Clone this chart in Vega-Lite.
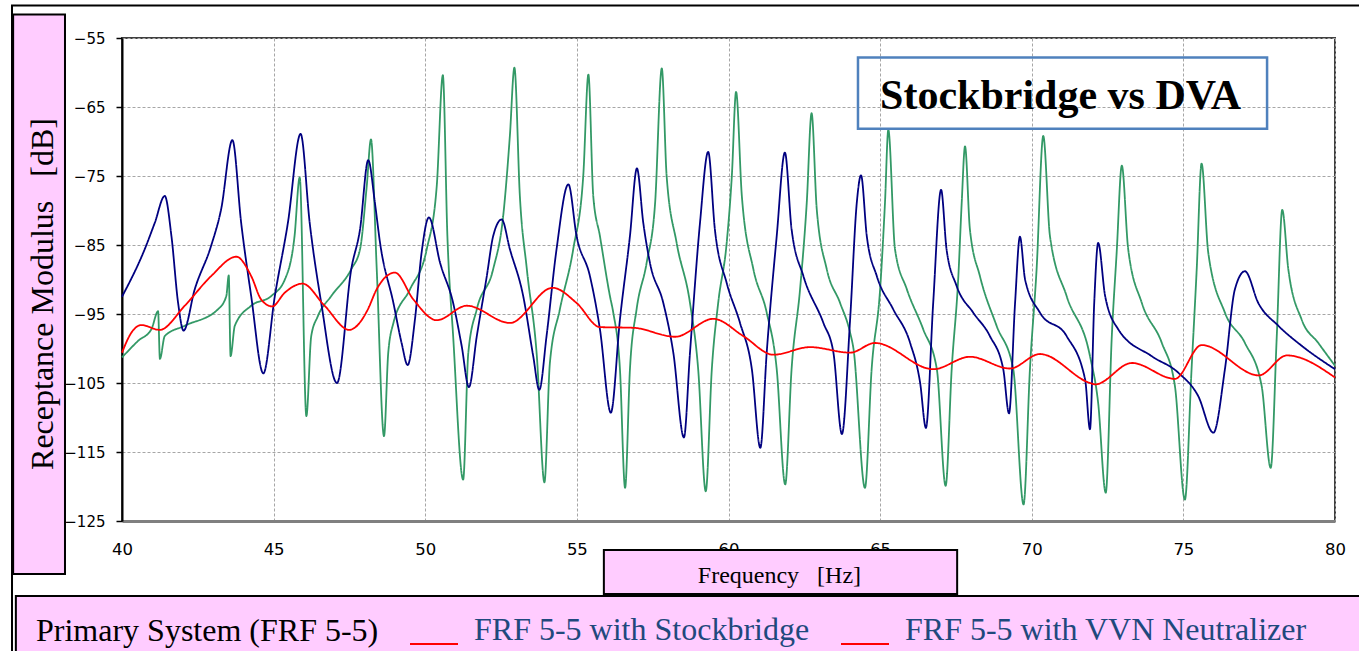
{
  "$schema": "https://vega.github.io/schema/vega-lite/v6.json",
  "width": 1213,
  "height": 483,
  "autosize": {"type": "none"},
  "padding": {"left": 122, "top": 38, "right": 24, "bottom": 130},
  "background": "white",
  "config": {
    "font": "DejaVu Sans",
    "view": {"stroke": "#404040", "strokeWidth": 2}
  },
  "layer": [
    {
      "data": {"values": [{}]},
      "mark": {"type": "rect", "fillOpacity": 0, "stroke": "black", "strokeWidth": 2},
      "encoding": {
        "x": {"datum": 36.373},
        "x2": {"datum": 81.6},
        "y": {"datum": -50.29},
        "y2": {"datum": -146}
      }
    },
    {
      "data": {"values": [{}]},
      "mark": {"type": "rect", "fill": "#ffccff", "stroke": "black", "strokeWidth": 2},
      "encoding": {
        "x": {"datum": 36.5},
        "x2": {"datum": 82.14},
        "y": {"datum": -135.87},
        "y2": {"datum": -148.04}
      }
    },
    {
      "data": {"values": [{}]},
      "mark": {"type": "rect", "fill": "#ffccff", "stroke": "black", "strokeWidth": 2},
      "encoding": {
        "x": {"datum": 36.41},
        "x2": {"datum": 38.12},
        "y": {"datum": -51.59},
        "y2": {"datum": -132.68}
      }
    },
    {
      "data": {
        "values": [
          {"series": "Primary", "freq": 40.00, "dB": -101.3},
          {"series": "Primary", "freq": 40.53, "dB": -98.9},
          {"series": "Primary", "freq": 40.97, "dB": -97.2},
          {"series": "Primary", "freq": 41.19, "dB": -94.6},
          {"series": "Primary", "freq": 41.25, "dB": -101.5},
          {"series": "Primary", "freq": 41.41, "dB": -98.2},
          {"series": "Primary", "freq": 42.07, "dB": -96.7},
          {"series": "Primary", "freq": 43.17, "dB": -94.3},
          {"series": "Primary", "freq": 43.44, "dB": -92.4},
          {"series": "Primary", "freq": 43.52, "dB": -89.4},
          {"series": "Primary", "freq": 43.58, "dB": -101.1},
          {"series": "Primary", "freq": 43.72, "dB": -96.7},
          {"series": "Primary", "freq": 44.26, "dB": -93.8},
          {"series": "Primary", "freq": 44.92, "dB": -92.4},
          {"series": "Primary", "freq": 45.37, "dB": -90.0},
          {"series": "Primary", "freq": 45.69, "dB": -83.7},
          {"series": "Primary", "freq": 45.86, "dB": -75.2},
          {"series": "Primary", "freq": 46.08, "dB": -109.8},
          {"series": "Primary", "freq": 46.24, "dB": -98.2},
          {"series": "Primary", "freq": 46.46, "dB": -95.3},
          {"series": "Primary", "freq": 46.90, "dB": -92.4},
          {"series": "Primary", "freq": 47.56, "dB": -88.5},
          {"series": "Primary", "freq": 47.85, "dB": -85.6},
          {"series": "Primary", "freq": 48.07, "dB": -76.5},
          {"series": "Primary", "freq": 48.21, "dB": -69.7},
          {"series": "Primary", "freq": 48.40, "dB": -88.5},
          {"series": "Primary", "freq": 48.64, "dB": -112.7},
          {"series": "Primary", "freq": 48.78, "dB": -100.6},
          {"series": "Primary", "freq": 48.95, "dB": -96.3},
          {"series": "Primary", "freq": 49.50, "dB": -91.4},
          {"series": "Primary", "freq": 50.05, "dB": -85.6},
          {"series": "Primary", "freq": 50.38, "dB": -76.4},
          {"series": "Primary", "freq": 50.58, "dB": -60.4},
          {"series": "Primary", "freq": 50.73, "dB": -83.7},
          {"series": "Primary", "freq": 50.92, "dB": -98.2},
          {"series": "Primary", "freq": 51.25, "dB": -119.0},
          {"series": "Primary", "freq": 51.42, "dB": -100.6},
          {"series": "Primary", "freq": 51.70, "dB": -94.3},
          {"series": "Primary", "freq": 52.24, "dB": -88.5},
          {"series": "Primary", "freq": 52.57, "dB": -80.8},
          {"series": "Primary", "freq": 52.79, "dB": -69.2},
          {"series": "Primary", "freq": 52.94, "dB": -59.3},
          {"series": "Primary", "freq": 53.12, "dB": -77.9},
          {"series": "Primary", "freq": 53.35, "dB": -88.5},
          {"series": "Primary", "freq": 53.68, "dB": -101.1},
          {"series": "Primary", "freq": 53.93, "dB": -119.4},
          {"series": "Primary", "freq": 54.11, "dB": -102.1},
          {"series": "Primary", "freq": 54.44, "dB": -94.3},
          {"series": "Primary", "freq": 54.88, "dB": -85.6},
          {"series": "Primary", "freq": 55.21, "dB": -75.0},
          {"series": "Primary", "freq": 55.38, "dB": -60.3},
          {"series": "Primary", "freq": 55.54, "dB": -77.9},
          {"series": "Primary", "freq": 55.76, "dB": -83.7},
          {"series": "Primary", "freq": 56.09, "dB": -92.4},
          {"series": "Primary", "freq": 56.20, "dB": -94.8},
          {"series": "Primary", "freq": 56.42, "dB": -103.0},
          {"series": "Primary", "freq": 56.59, "dB": -120.2},
          {"series": "Primary", "freq": 56.75, "dB": -103.0},
          {"series": "Primary", "freq": 56.97, "dB": -94.3},
          {"series": "Primary", "freq": 57.30, "dB": -87.6},
          {"series": "Primary", "freq": 57.58, "dB": -78.9},
          {"series": "Primary", "freq": 57.80, "dB": -59.4},
          {"series": "Primary", "freq": 57.96, "dB": -75.0},
          {"series": "Primary", "freq": 58.29, "dB": -84.7},
          {"series": "Primary", "freq": 58.73, "dB": -93.4},
          {"series": "Primary", "freq": 59.00, "dB": -103.0},
          {"series": "Primary", "freq": 59.25, "dB": -120.7},
          {"series": "Primary", "freq": 59.45, "dB": -103.0},
          {"series": "Primary", "freq": 59.66, "dB": -93.4},
          {"series": "Primary", "freq": 59.94, "dB": -84.7},
          {"series": "Primary", "freq": 60.11, "dB": -75.0},
          {"series": "Primary", "freq": 60.25, "dB": -62.8},
          {"series": "Primary", "freq": 60.44, "dB": -77.9},
          {"series": "Primary", "freq": 60.82, "dB": -88.5},
          {"series": "Primary", "freq": 61.26, "dB": -94.8},
          {"series": "Primary", "freq": 61.59, "dB": -103.0},
          {"series": "Primary", "freq": 61.87, "dB": -119.7},
          {"series": "Primary", "freq": 62.08, "dB": -103.0},
          {"series": "Primary", "freq": 62.36, "dB": -91.4},
          {"series": "Primary", "freq": 62.58, "dB": -78.9},
          {"series": "Primary", "freq": 62.74, "dB": -65.9},
          {"series": "Primary", "freq": 62.91, "dB": -79.8},
          {"series": "Primary", "freq": 63.24, "dB": -88.5},
          {"series": "Primary", "freq": 63.68, "dB": -93.4},
          {"series": "Primary", "freq": 64.01, "dB": -97.7},
          {"series": "Primary", "freq": 64.12, "dB": -100.0},
          {"series": "Primary", "freq": 64.50, "dB": -120.2},
          {"series": "Primary", "freq": 64.72, "dB": -103.0},
          {"series": "Primary", "freq": 65.00, "dB": -91.4},
          {"series": "Primary", "freq": 65.16, "dB": -78.9},
          {"series": "Primary", "freq": 65.27, "dB": -68.3},
          {"series": "Primary", "freq": 65.49, "dB": -85.6},
          {"series": "Primary", "freq": 65.88, "dB": -91.4},
          {"series": "Primary", "freq": 66.42, "dB": -97.2},
          {"series": "Primary", "freq": 66.87, "dB": -103.0},
          {"series": "Primary", "freq": 67.16, "dB": -119.9},
          {"series": "Primary", "freq": 67.36, "dB": -103.0},
          {"series": "Primary", "freq": 67.58, "dB": -89.5},
          {"series": "Primary", "freq": 67.69, "dB": -78.9},
          {"series": "Primary", "freq": 67.80, "dB": -70.7},
          {"series": "Primary", "freq": 67.96, "dB": -82.7},
          {"series": "Primary", "freq": 68.29, "dB": -89.5},
          {"series": "Primary", "freq": 68.84, "dB": -96.7},
          {"series": "Primary", "freq": 69.39, "dB": -103.0},
          {"series": "Primary", "freq": 69.73, "dB": -122.6},
          {"series": "Primary", "freq": 69.94, "dB": -103.0},
          {"series": "Primary", "freq": 70.16, "dB": -88.5},
          {"series": "Primary", "freq": 70.38, "dB": -69.2},
          {"series": "Primary", "freq": 70.60, "dB": -83.7},
          {"series": "Primary", "freq": 71.15, "dB": -92.4},
          {"series": "Primary", "freq": 71.92, "dB": -101.1},
          {"series": "Primary", "freq": 72.19, "dB": -107.9},
          {"series": "Primary", "freq": 72.44, "dB": -120.9},
          {"series": "Primary", "freq": 72.64, "dB": -98.2},
          {"series": "Primary", "freq": 72.80, "dB": -86.1},
          {"series": "Primary", "freq": 72.97, "dB": -73.5},
          {"series": "Primary", "freq": 73.18, "dB": -85.6},
          {"series": "Primary", "freq": 73.63, "dB": -93.4},
          {"series": "Primary", "freq": 74.29, "dB": -99.2},
          {"series": "Primary", "freq": 74.72, "dB": -105.4},
          {"series": "Primary", "freq": 75.05, "dB": -121.9},
          {"series": "Primary", "freq": 75.27, "dB": -103.0},
          {"series": "Primary", "freq": 75.44, "dB": -88.5},
          {"series": "Primary", "freq": 75.60, "dB": -73.2},
          {"series": "Primary", "freq": 75.82, "dB": -86.1},
          {"series": "Primary", "freq": 76.37, "dB": -94.8},
          {"series": "Primary", "freq": 77.03, "dB": -99.2},
          {"series": "Primary", "freq": 77.58, "dB": -105.4},
          {"series": "Primary", "freq": 77.88, "dB": -117.3},
          {"series": "Primary", "freq": 78.08, "dB": -98.2},
          {"series": "Primary", "freq": 78.26, "dB": -79.9},
          {"series": "Primary", "freq": 78.46, "dB": -88.5},
          {"series": "Primary", "freq": 78.90, "dB": -95.8},
          {"series": "Primary", "freq": 79.45, "dB": -99.2},
          {"series": "Primary", "freq": 80.00, "dB": -102.5},

          {"series": "Stockbridge", "freq": 40.00, "dB": -92.5},
          {"series": "Stockbridge", "freq": 40.75, "dB": -85.6},
          {"series": "Stockbridge", "freq": 41.08, "dB": -81.8},
          {"series": "Stockbridge", "freq": 41.41, "dB": -77.9},
          {"series": "Stockbridge", "freq": 41.63, "dB": -83.7},
          {"series": "Stockbridge", "freq": 41.85, "dB": -93.4},
          {"series": "Stockbridge", "freq": 42.03, "dB": -97.4},
          {"series": "Stockbridge", "freq": 42.40, "dB": -91.4},
          {"series": "Stockbridge", "freq": 42.94, "dB": -85.1},
          {"series": "Stockbridge", "freq": 43.27, "dB": -79.8},
          {"series": "Stockbridge", "freq": 43.64, "dB": -69.8},
          {"series": "Stockbridge", "freq": 43.93, "dB": -81.8},
          {"series": "Stockbridge", "freq": 44.26, "dB": -92.4},
          {"series": "Stockbridge", "freq": 44.66, "dB": -103.6},
          {"series": "Stockbridge", "freq": 45.04, "dB": -92.4},
          {"series": "Stockbridge", "freq": 45.47, "dB": -81.8},
          {"series": "Stockbridge", "freq": 45.89, "dB": -68.9},
          {"series": "Stockbridge", "freq": 46.19, "dB": -81.8},
          {"series": "Stockbridge", "freq": 46.57, "dB": -93.4},
          {"series": "Stockbridge", "freq": 47.09, "dB": -105.0},
          {"series": "Stockbridge", "freq": 47.56, "dB": -88.5},
          {"series": "Stockbridge", "freq": 47.85, "dB": -82.7},
          {"series": "Stockbridge", "freq": 48.12, "dB": -72.7},
          {"series": "Stockbridge", "freq": 48.34, "dB": -78.9},
          {"series": "Stockbridge", "freq": 48.51, "dB": -84.7},
          {"series": "Stockbridge", "freq": 48.95, "dB": -93.4},
          {"series": "Stockbridge", "freq": 49.22, "dB": -99.2},
          {"series": "Stockbridge", "freq": 49.42, "dB": -102.4},
          {"series": "Stockbridge", "freq": 49.66, "dB": -95.8},
          {"series": "Stockbridge", "freq": 49.88, "dB": -86.1},
          {"series": "Stockbridge", "freq": 50.12, "dB": -81.0},
          {"series": "Stockbridge", "freq": 50.49, "dB": -87.6},
          {"series": "Stockbridge", "freq": 50.92, "dB": -93.4},
          {"series": "Stockbridge", "freq": 51.20, "dB": -99.6},
          {"series": "Stockbridge", "freq": 51.44, "dB": -105.6},
          {"series": "Stockbridge", "freq": 51.70, "dB": -98.2},
          {"series": "Stockbridge", "freq": 52.03, "dB": -89.5},
          {"series": "Stockbridge", "freq": 52.24, "dB": -83.7},
          {"series": "Stockbridge", "freq": 52.52, "dB": -81.3},
          {"series": "Stockbridge", "freq": 52.79, "dB": -85.6},
          {"series": "Stockbridge", "freq": 53.23, "dB": -92.4},
          {"series": "Stockbridge", "freq": 53.56, "dB": -101.1},
          {"series": "Stockbridge", "freq": 53.76, "dB": -106.0},
          {"series": "Stockbridge", "freq": 54.00, "dB": -98.2},
          {"series": "Stockbridge", "freq": 54.33, "dB": -85.6},
          {"series": "Stockbridge", "freq": 54.72, "dB": -76.2},
          {"series": "Stockbridge", "freq": 54.99, "dB": -83.7},
          {"series": "Stockbridge", "freq": 55.43, "dB": -89.5},
          {"series": "Stockbridge", "freq": 55.76, "dB": -97.2},
          {"series": "Stockbridge", "freq": 56.12, "dB": -109.3},
          {"series": "Stockbridge", "freq": 56.42, "dB": -95.8},
          {"series": "Stockbridge", "freq": 56.75, "dB": -83.7},
          {"series": "Stockbridge", "freq": 56.98, "dB": -73.9},
          {"series": "Stockbridge", "freq": 57.19, "dB": -81.8},
          {"series": "Stockbridge", "freq": 57.41, "dB": -87.6},
          {"series": "Stockbridge", "freq": 57.85, "dB": -93.4},
          {"series": "Stockbridge", "freq": 58.18, "dB": -100.6},
          {"series": "Stockbridge", "freq": 58.53, "dB": -112.9},
          {"series": "Stockbridge", "freq": 58.73, "dB": -100.6},
          {"series": "Stockbridge", "freq": 59.06, "dB": -81.8},
          {"series": "Stockbridge", "freq": 59.33, "dB": -71.5},
          {"series": "Stockbridge", "freq": 59.55, "dB": -82.7},
          {"series": "Stockbridge", "freq": 59.94, "dB": -90.5},
          {"series": "Stockbridge", "freq": 60.38, "dB": -96.3},
          {"series": "Stockbridge", "freq": 60.77, "dB": -103.0},
          {"series": "Stockbridge", "freq": 61.05, "dB": -114.4},
          {"series": "Stockbridge", "freq": 61.26, "dB": -100.6},
          {"series": "Stockbridge", "freq": 61.59, "dB": -83.7},
          {"series": "Stockbridge", "freq": 61.86, "dB": -71.6},
          {"series": "Stockbridge", "freq": 62.08, "dB": -82.7},
          {"series": "Stockbridge", "freq": 62.47, "dB": -89.5},
          {"series": "Stockbridge", "freq": 63.13, "dB": -96.3},
          {"series": "Stockbridge", "freq": 63.46, "dB": -100.6},
          {"series": "Stockbridge", "freq": 63.74, "dB": -112.4},
          {"series": "Stockbridge", "freq": 64.01, "dB": -95.8},
          {"series": "Stockbridge", "freq": 64.23, "dB": -78.9},
          {"series": "Stockbridge", "freq": 64.37, "dB": -74.9},
          {"series": "Stockbridge", "freq": 64.56, "dB": -83.7},
          {"series": "Stockbridge", "freq": 64.89, "dB": -89.5},
          {"series": "Stockbridge", "freq": 65.43, "dB": -94.3},
          {"series": "Stockbridge", "freq": 65.99, "dB": -99.2},
          {"series": "Stockbridge", "freq": 66.32, "dB": -105.0},
          {"series": "Stockbridge", "freq": 66.51, "dB": -111.5},
          {"series": "Stockbridge", "freq": 66.75, "dB": -93.4},
          {"series": "Stockbridge", "freq": 67.01, "dB": -77.0},
          {"series": "Stockbridge", "freq": 67.19, "dB": -85.6},
          {"series": "Stockbridge", "freq": 67.52, "dB": -90.9},
          {"series": "Stockbridge", "freq": 68.07, "dB": -94.8},
          {"series": "Stockbridge", "freq": 68.62, "dB": -98.2},
          {"series": "Stockbridge", "freq": 69.06, "dB": -103.0},
          {"series": "Stockbridge", "freq": 69.25, "dB": -109.4},
          {"series": "Stockbridge", "freq": 69.45, "dB": -93.4},
          {"series": "Stockbridge", "freq": 69.61, "dB": -83.8},
          {"series": "Stockbridge", "freq": 69.78, "dB": -90.0},
          {"series": "Stockbridge", "freq": 70.27, "dB": -94.8},
          {"series": "Stockbridge", "freq": 71.15, "dB": -98.2},
          {"series": "Stockbridge", "freq": 71.76, "dB": -104.5},
          {"series": "Stockbridge", "freq": 71.92, "dB": -111.7},
          {"series": "Stockbridge", "freq": 72.06, "dB": -93.4},
          {"series": "Stockbridge", "freq": 72.19, "dB": -84.7},
          {"series": "Stockbridge", "freq": 72.42, "dB": -92.4},
          {"series": "Stockbridge", "freq": 72.85, "dB": -97.2},
          {"series": "Stockbridge", "freq": 73.95, "dB": -101.1},
          {"series": "Stockbridge", "freq": 74.83, "dB": -103.5},
          {"series": "Stockbridge", "freq": 75.49, "dB": -106.9},
          {"series": "Stockbridge", "freq": 75.99, "dB": -112.2},
          {"series": "Stockbridge", "freq": 76.37, "dB": -103.0},
          {"series": "Stockbridge", "freq": 76.70, "dB": -91.4},
          {"series": "Stockbridge", "freq": 77.03, "dB": -88.8},
          {"series": "Stockbridge", "freq": 77.47, "dB": -93.4},
          {"series": "Stockbridge", "freq": 78.13, "dB": -96.7},
          {"series": "Stockbridge", "freq": 78.90, "dB": -99.6},
          {"series": "Stockbridge", "freq": 80.00, "dB": -103.0},

          {"series": "VVN", "freq": 40.00, "dB": -100.6},
          {"series": "VVN", "freq": 40.31, "dB": -97.7},
          {"series": "VVN", "freq": 40.64, "dB": -96.6},
          {"series": "VVN", "freq": 41.24, "dB": -97.3},
          {"series": "VVN", "freq": 42.07, "dB": -93.8},
          {"series": "VVN", "freq": 42.94, "dB": -89.5},
          {"series": "VVN", "freq": 43.77, "dB": -86.7},
          {"series": "VVN", "freq": 44.26, "dB": -89.5},
          {"series": "VVN", "freq": 44.59, "dB": -92.9},
          {"series": "VVN", "freq": 44.95, "dB": -93.9},
          {"series": "VVN", "freq": 45.37, "dB": -91.9},
          {"series": "VVN", "freq": 45.95, "dB": -90.6},
          {"series": "VVN", "freq": 46.68, "dB": -93.8},
          {"series": "VVN", "freq": 47.49, "dB": -97.3},
          {"series": "VVN", "freq": 47.85, "dB": -96.2},
          {"series": "VVN", "freq": 48.11, "dB": -94.3},
          {"series": "VVN", "freq": 48.40, "dB": -91.4},
          {"series": "VVN", "freq": 49.00, "dB": -89.0},
          {"series": "VVN", "freq": 49.61, "dB": -92.9},
          {"series": "VVN", "freq": 50.38, "dB": -95.9},
          {"series": "VVN", "freq": 51.37, "dB": -93.8},
          {"series": "VVN", "freq": 52.79, "dB": -96.3},
          {"series": "VVN", "freq": 54.20, "dB": -91.2},
          {"series": "VVN", "freq": 54.99, "dB": -93.4},
          {"series": "VVN", "freq": 55.76, "dB": -96.9},
          {"series": "VVN", "freq": 56.86, "dB": -97.0},
          {"series": "VVN", "freq": 58.24, "dB": -98.3},
          {"series": "VVN", "freq": 59.50, "dB": -95.7},
          {"series": "VVN", "freq": 60.49, "dB": -98.2},
          {"series": "VVN", "freq": 61.48, "dB": -100.9},
          {"series": "VVN", "freq": 62.69, "dB": -99.8},
          {"series": "VVN", "freq": 64.01, "dB": -100.6},
          {"series": "VVN", "freq": 64.83, "dB": -99.2},
          {"series": "VVN", "freq": 66.75, "dB": -103.0},
          {"series": "VVN", "freq": 67.96, "dB": -101.2},
          {"series": "VVN", "freq": 69.28, "dB": -102.9},
          {"series": "VVN", "freq": 70.27, "dB": -100.8},
          {"series": "VVN", "freq": 71.92, "dB": -105.0},
          {"series": "VVN", "freq": 72.09, "dB": -105.2},
          {"series": "VVN", "freq": 73.30, "dB": -102.1},
          {"series": "VVN", "freq": 74.72, "dB": -104.4},
          {"series": "VVN", "freq": 75.60, "dB": -99.5},
          {"series": "VVN", "freq": 77.49, "dB": -103.9},
          {"series": "VVN", "freq": 78.41, "dB": -101.0},
          {"series": "VVN", "freq": 80.00, "dB": -104.2}
        ]
      },
      "mark": {"type": "line", "interpolate": "monotone", "strokeWidth": 1.8},
      "encoding": {
        "x": {
          "field": "freq", "type": "quantitative",
          "scale": {"domain": [40, 80], "nice": false, "zero": false},
          "axis": {
            "title": null, "values": [40, 45, 50, 55, 60, 65, 70, 75, 80],
            "ticks": false, "labelPadding": 20, "labelFontSize": 16.5, "labelFont": "DejaVu Sans",
            "labelColor": "black", "labelFlush": false, "labelOverlap": false,
            "domainColor": "#808080", "domainWidth": 3,
            "grid": true, "gridColor": "#a6a6a6", "gridDash": [3, 2], "gridWidth": 1
          }
        },
        "y": {
          "field": "dB", "type": "quantitative",
          "scale": {"domain": [-125, -55], "nice": false, "zero": false},
          "axis": {
            "title": null, "values": [-125, -115, -105, -95, -85, -75, -65, -55],
            "tickSize": 6, "tickColor": "black", "tickWidth": 1.5,
            "labelPadding": 11, "labelFontSize": 15, "labelFont": "DejaVu Sans",
            "labelColor": "black", "labelFlush": false, "labelOverlap": false,
            "domainColor": "black", "domainWidth": 2,
            "grid": true, "gridColor": "#a6a6a6", "gridDash": [3, 2], "gridWidth": 1
          }
        },
        "color": {
          "field": "series", "type": "nominal",
          "scale": {"range": ["#339966", "#000080", "#ff0000"]},
          "legend": null
        },
        "strokeDash": {
          "field": "series", "type": "nominal",
          "scale": {"domain": ["Primary", "Stockbridge", "VVN"], "range": [[1, 0], [1, 0], [1, 0]]},
          "legend": {
            "orient": "none", "legendX": -86, "legendY": 567, "direction": "horizontal",
            "title": null, "padding": 0,
            "symbolType": "stroke", "symbolSize": 2304, "symbolStrokeWidth": 2,
            "symbolStrokeColor": "#ff0000",
            "labelFont": "Liberation Serif", "labelFontSize": 32, "labelLimit": 1000,
            "labelOffset": 16, "columnPadding": 27,
            "labelExpr": "datum.label == 'Primary' ? 'Primary System (FRF 5-5)' : datum.label == 'Stockbridge' ? 'FRF 5-5 with Stockbridge' : 'FRF 5-5 with VVN Neutralizer'",
            "encode": {
              "labels": {"update": {
                "fill": {"signal": "datum.index === 0 ? '#000000' : '#1f497d'"},
                "x": {"signal": "datum.index === 0 ? 0 : 65"}
              }},
              "symbols": {"update": {
                "stroke": {"value": "#ff0000"},
                "opacity": {"signal": "datum.index === 0 ? 0 : 1"},
                "y": {"value": 39}
              }}
            }
          }
        }
      }
    },
    {
      "data": {"values": [{}]},
      "mark": {"type": "rect", "fill": "#ffccff", "stroke": "black", "strokeWidth": 2},
      "encoding": {
        "x": {"datum": 55.89},
        "x2": {"datum": 67.54},
        "y": {"datum": -129.2},
        "y2": {"datum": -135.58}
      }
    },
    {
      "data": {"values": [{}]},
      "mark": {"type": "rect", "fillOpacity": 0, "stroke": "#4f81bd", "strokeWidth": 2.5},
      "encoding": {
        "x": {"datum": 64.27},
        "x2": {"datum": 77.76},
        "y": {"datum": -57.83},
        "y2": {"datum": -68.14}
      }
    },
    {
      "data": {"values": [{}]},
      "mark": {"type": "text", "font": "Liberation Serif", "fontWeight": "bold", "fontSize": 42, "align": "center", "baseline": "alphabetic", "color": "black"},
      "encoding": {
        "x": {"datum": 70.95},
        "y": {"datum": -65.29},
        "text": {"value": "Stockbridge vs DVA"}
      }
    },
    {
      "data": {"values": [{}]},
      "mark": {"type": "text", "font": "Liberation Serif", "fontSize": 32, "angle": 270, "align": "center", "baseline": "alphabetic", "color": "black"},
      "encoding": {
        "x": {"datum": 37.72},
        "y": {"datum": -92.1},
        "text": {"value": "Receptance Modulus\u00a0\u00a0\u00a0[dB]"}
      }
    },
    {
      "data": {"values": [{}]},
      "mark": {"type": "text", "font": "Liberation Serif", "fontSize": 24, "align": "center", "baseline": "alphabetic", "color": "black"},
      "encoding": {
        "x": {"datum": 61.68},
        "y": {"datum": -133.99},
        "text": {"value": "Frequency\u00a0\u00a0\u00a0[Hz]"}
      }
    }
  ]
}
